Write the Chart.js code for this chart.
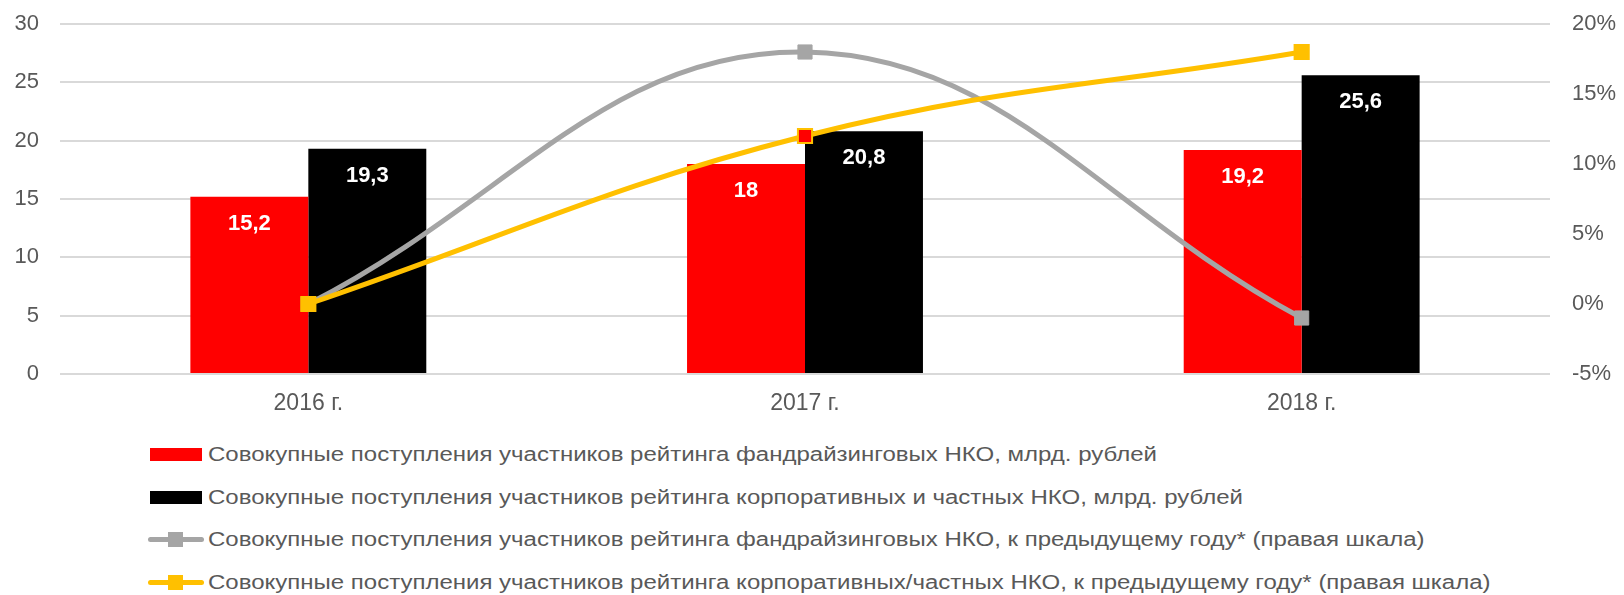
<!DOCTYPE html>
<html lang="ru">
<head>
<meta charset="utf-8">
<script src="https://cdn.jsdelivr.net/npm/chart.js@4.4.1/dist/chart.umd.min.js"></script>
<style>
  body { margin: 0; background: #fff; font-family: "Liberation Sans", Arial, sans-serif; }
  #wrap { position: relative; width: 1624px; height: 595px; }
  #chart { position: absolute; left: 0; top: 0; }
  #legend { position: absolute; left: 148px; top: 433px; }
  .item { display: flex; align-items: center; height: 42.7px; font-size: 20px; color: #595959; white-space: nowrap; }
  .mark { position: relative; width: 56px; height: 15px; margin-right: 4px; flex: none; }
  .box { position: absolute; left: 2px; top: 1px; width: 52px; height: 13px; }
  .ln { position: absolute; left: 0; top: 5px; width: 56px; height: 5px; border-radius: 3px; }
  .sq { position: absolute; left: 20px; top: 0; width: 15px; height: 15px; }
  .txt { display: inline-block; transform: scaleX(1.2); transform-origin: 0 50%; }
</style>
</head>
<body>
<div id="wrap">
  <canvas id="chart" width="1624" height="420"></canvas>
  <div id="legend"></div>
</div>
<script>
// Categories and series
const years = ['2016 г.', '2017 г.', '2018 г.'];
const fundraisingTotal = [15.2, 18, 19.2];
const corporateTotal = [19.3, 20.8, 25.6];
const fundraisingGrowth = [0, 18, -1];
const corporateGrowth = [0, 12, 18];

const seriesNames = [
  'Совокупные поступления участников рейтинга фандрайзинговых НКО, млрд. рублей',
  'Совокупные поступления участников рейтинга корпоративных и частных НКО, млрд. рублей',
  'Совокупные поступления участников рейтинга фандрайзинговых НКО, к предыдущему году* (правая шкала)',
  'Совокупные поступления участников рейтинга корпоративных/частных НКО, к предыдущему году* (правая шкала)'
];

const RED = '#FF0000';
const BLACK = '#000000';
const GREY = '#A5A5A5';
const YELLOW = '#FFC000';
const TEXT = '#595959';
const FONT = '"Liberation Sans", Arial, sans-serif';

// White bold value labels inside the bars
const barLabels = {
  id: 'barLabels',
  afterDatasetsDraw(chart) {
    const ctx = chart.ctx;
    ctx.save();
    ctx.font = 'bold 22px ' + FONT;
    ctx.fillStyle = '#FFFFFF';
    ctx.textAlign = 'center';
    ctx.textBaseline = 'middle';
    [0, 1].forEach(i => {
      const meta = chart.getDatasetMeta(i);
      meta.data.forEach((bar, j) => {
        const v = chart.data.datasets[i].data[j];
        ctx.fillText(String(v).replace('.', ','), bar.x, bar.y + 27);
      });
    });
    ctx.restore();
  }
};

// fixed axis sizes so the plot area lands where the reference has it
function fixVertical(width) {
  return scale => {
    scale.width = width;
    scale.paddingTop = 0;
    scale.paddingBottom = 0;
  };
}

new Chart(document.getElementById('chart'), {
  data: {
    labels: years,
    datasets: [
      {
        type: 'bar',
        label: seriesNames[0],
        data: fundraisingTotal,
        backgroundColor: RED,
        yAxisID: 'y',
        order: 2,
        categoryPercentage: 0.475,
        barPercentage: 1
      },
      {
        type: 'bar',
        label: seriesNames[1],
        data: corporateTotal,
        backgroundColor: BLACK,
        yAxisID: 'y',
        order: 2,
        categoryPercentage: 0.475,
        barPercentage: 1
      },
      {
        type: 'line',
        label: seriesNames[2],
        data: fundraisingGrowth,
        borderColor: GREY,
        backgroundColor: GREY,
        borderWidth: 5,
        tension: 0.4,
        pointStyle: 'rect',
        pointRadius: 10,
        pointBackgroundColor: GREY,
        pointBorderColor: GREY,
        pointBorderWidth: 1,
        yAxisID: 'y1',
        order: 1
      },
      {
        type: 'line',
        label: seriesNames[3],
        data: corporateGrowth,
        borderColor: YELLOW,
        backgroundColor: YELLOW,
        borderWidth: 5,
        tension: 0.4,
        pointStyle: 'rect',
        pointRadius: 10,
        pointBackgroundColor: [YELLOW, RED, YELLOW],
        pointBorderColor: YELLOW,
        pointBorderWidth: 2,
        yAxisID: 'y1',
        order: 0
      }
    ]
  },
  options: {
    responsive: false,
    animation: false,
    devicePixelRatio: 1,
    layout: { padding: { top: 24, left: 0, right: 0, bottom: 0 } },
    plugins: {
      legend: { display: false },
      tooltip: { enabled: false }
    },
    scales: {
      x: {
        grid: { display: false, drawTicks: false },
        border: { display: false },
        ticks: { color: TEXT, font: { family: FONT, size: 23 }, padding: 16 },
        afterFit(scale) { scale.height = 46; }
      },
      y: {
        position: 'left',
        min: 0,
        max: 30,
        grid: { color: '#D9D9D9', lineWidth: 2, drawTicks: false },
        border: { display: false },
        ticks: { stepSize: 5, color: TEXT, font: { family: FONT, size: 22 }, padding: 21 },
        afterFit: fixVertical(60)
      },
      y1: {
        position: 'right',
        min: -5,
        max: 20,
        grid: { display: false, drawTicks: false },
        border: { display: false },
        ticks: {
          stepSize: 5,
          color: TEXT,
          font: { family: FONT, size: 22 },
          padding: 22,
          callback: v => v + '%'
        },
        afterFit: fixVertical(74)
      }
    }
  },
  plugins: [barLabels]
});

// Legend below the chart, one series per row
const legendEl = document.getElementById('legend');
const legendMarks = [
  { kind: 'box', color: RED },
  { kind: 'box', color: BLACK },
  { kind: 'line', color: GREY },
  { kind: 'line', color: YELLOW }
];
seriesNames.forEach((name, i) => {
  const m = legendMarks[i];
  const row = document.createElement('div');
  row.className = 'item';
  const mark = document.createElement('span');
  mark.className = 'mark';
  if (m.kind === 'box') {
    mark.innerHTML = `<span class="box" style="background:${m.color}"></span>`;
  } else {
    mark.innerHTML = `<span class="ln" style="background:${m.color}"></span><span class="sq" style="background:${m.color}"></span>`;
  }
  row.appendChild(mark);
  const txt = document.createElement('span');
  txt.className = 'txt';
  txt.textContent = name;
  row.appendChild(txt);
  legendEl.appendChild(row);
});
</script>
</body>
</html>
